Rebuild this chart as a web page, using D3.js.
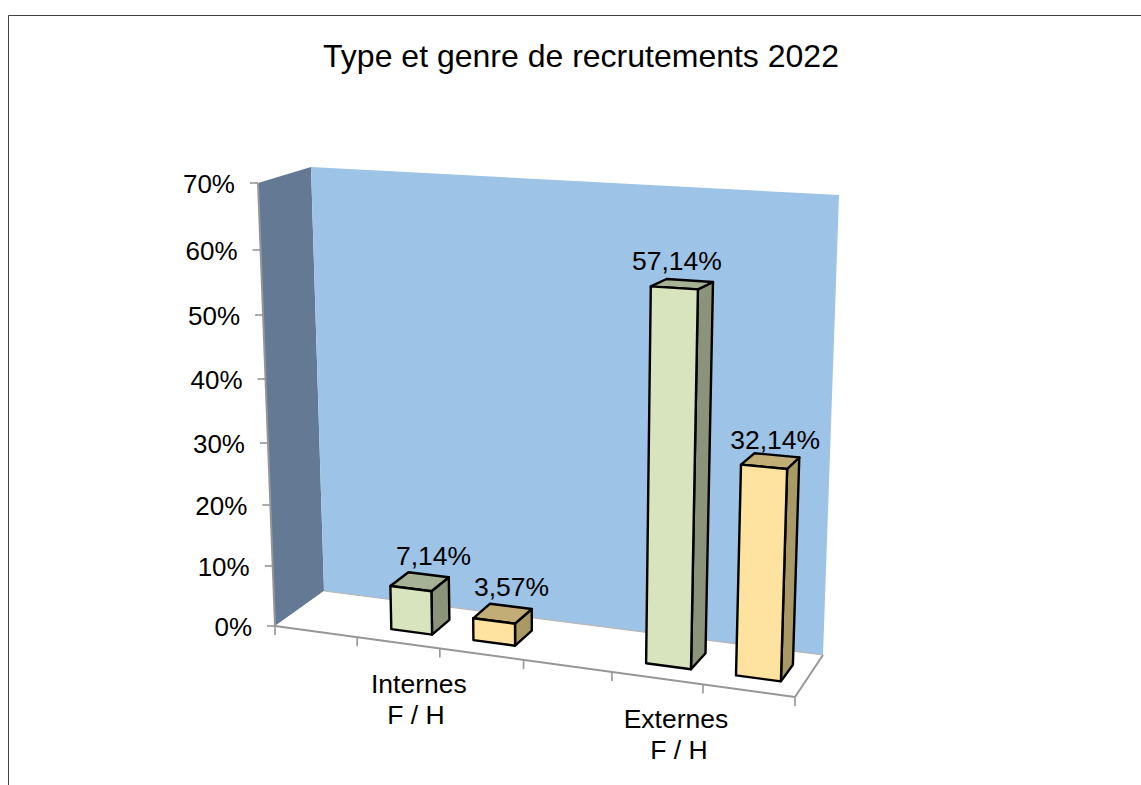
<!DOCTYPE html>
<html><head><meta charset="utf-8">
<script src="https://cdn.jsdelivr.net/npm/d3@7"></script>
<style>html,body{margin:0;padding:0;background:#fff;overflow:hidden}svg{display:block}text{font-family:"Liberation Sans",Arial,sans-serif;fill:#000}</style>
</head><body><svg id="c" width="1141" height="785"></svg>
<script>
const titleText = "Type et genre de recrutements 2022";
const slots = ["", "F", "H", "", "F", "H"];
const groupLabels = [["Internes", "F / H"], ["Externes", "F / H"]];
const groupTicks = [2, 5];
const barSlots = [1, 2, 4, 5];
const barValues = [7.14, 3.57, 57.14, 32.14];
const barSeries = ["F", "H", "F", "H"];
const valueTicks = [0, 10, 20, 30, 40, 50, 60, 70];

// layout of the projected box
const tickYs = [626, 566, 505, 443, 379, 315, 250, 183];
const frontFractions = [0, 0.158, 0.317, 0.478, 0.648, 0.823, 1];
const backFractions = [0, 0.158, 0.317, 0.483, 0.655, 0.83, 1];
const corner = {
  floorFL: [275, 626], floorFR: [795, 697], floorBL: [324, 591], floorBR: [823, 655],
  topFL: [258, 183], topFR: [810, 208], topBL: [311, 167], topBR: [839, 195]
};
const palette = {
  F: {front: "#D7E4BD", top: "#A6B295", side: "#8B937A"},
  H: {front: "#FEE29F", top: "#C2AD76", side: "#A99965"}
};
const labelNudges = [[14, -17], [9, -18], [-5, -14], [5, -12]];

const svg = d3.select("#c");
const lerp = (a, b, t) => [a[0] + (b[0] - a[0]) * t, a[1] + (b[1] - a[1]) * t];
const yScale = d3.scaleLinear().domain(valueTicks).range(tickYs);
const heightFraction = d3.scaleLinear().domain([tickYs[0], tickYs[7]]).range([0, 1]);
const slotDomain = d3.range(slots.length + 1);
const frontScale = d3.scaleLinear().domain(slotDomain).range(frontFractions);
const backScale = d3.scaleLinear().domain(slotDomain).range(backFractions);
const project = (u, v, z) => {
  const f = frontScale(u), b = backScale(u), t = heightFraction(yScale(v));
  const floor = lerp(lerp(corner.floorFL, corner.floorFR, f), lerp(corner.floorBL, corner.floorBR, b), z);
  const top = lerp(lerp(corner.topFL, corner.topFR, f), lerp(corner.topBL, corner.topBR, b), z);
  return lerp(floor, top, t);
};
const poly = pts => "M" + pts.map(p => p[0].toFixed(1) + "," + p[1].toFixed(1)).join("L") + "Z";
const line = (a, b) => "M" + a[0] + "," + a[1] + "L" + b[0] + "," + b[1];

// outer frame
svg.append("path").attr("d", "M8.5,785V15.5H1141").attr("fill", "none").attr("stroke", "#404040").attr("stroke-width", 1);

svg.append("text").attr("x", 581).attr("y", 67).attr("text-anchor", "middle").attr("font-size", 32).text(titleText);

// walls and floor
svg.append("path").attr("d", poly([corner.floorFL, corner.topFL, corner.topBL, corner.floorBL])).attr("fill", "#647A94");
svg.append("path").attr("d", poly([corner.floorBL, corner.topBL, corner.topBR, corner.floorBR])).attr("fill", "#9DC3E6");
svg.append("path").attr("d", poly([corner.floorFL, corner.floorBL, corner.floorBR, corner.floorFR])).attr("fill", "#fff");
svg.append("path").attr("d", line(corner.floorBL, corner.floorBR)).attr("stroke", "#b5b5b5").attr("stroke-width", 1.2);
const axisColor = "#969696";
svg.append("path").attr("d", line(corner.floorFR, corner.floorBR) + line(corner.floorFL, corner.floorFR) + line(corner.floorFL, corner.topFL))
  .attr("fill", "none").attr("stroke", axisColor).attr("stroke-width", 2);

// value axis
const axisAt = v => project(0, v, 0);
valueTicks.forEach(v => {
  const p = axisAt(v);
  svg.append("path").attr("d", line([p[0] - 8, p[1]], p)).attr("stroke", axisColor).attr("stroke-width", 1.6);
  svg.append("text").attr("x", p[0] - 23).attr("y", p[1] + 9.5).attr("text-anchor", "end").attr("font-size", 26).text(v + "%");
});

// slot axis
slotDomain.forEach(u => {
  const p = project(u, 0, 0);
  svg.append("path").attr("d", line(p, [p[0], p[1] + 9])).attr("stroke", axisColor).attr("stroke-width", 1.6);
});
groupLabels.forEach((lines, i) => {
  const p = project(groupTicks[i], 0, 0);
  const cx = p[0] + (i === 0 ? -21 : -27);
  svg.append("text").attr("x", cx).attr("y", p[1] + 44).attr("text-anchor", "middle").attr("font-size", 26.5).text(lines[0]);
  svg.append("text").attr("x", cx + (i === 0 ? -3 : 3)).attr("y", p[1] + 75).attr("text-anchor", "middle").attr("font-size", 26.5).text(lines[1]);
});

// bars
const zFront = 0.3, zBack = 0.7, inset = 0.25;
const fmt = v => d3.format(".2f")(v).replace(".", ",") + "%";
barValues.forEach((v, i) => {
  const u0 = barSlots[i] + inset, u1 = barSlots[i] + 1 - inset;
  const c = palette[barSeries[i]];
  const style = (d, fill) => svg.append("path").attr("d", d).attr("fill", fill).attr("stroke", "#000").attr("stroke-width", 2.4).attr("stroke-linejoin", "round");
  style(poly([project(u1, 0, zFront), project(u1, 0, zBack), project(u1, v, zBack), project(u1, v, zFront)]), c.side);
  style(poly([project(u0, v, zFront), project(u1, v, zFront), project(u1, v, zBack), project(u0, v, zBack)]), c.top);
  style(poly([project(u0, 0, zFront), project(u1, 0, zFront), project(u1, v, zFront), project(u0, v, zFront)]), c.front);
  const a = project(u0, v, zFront), b = project(u1, v, zBack);
  svg.append("text")
    .attr("x", (a[0] + b[0]) / 2 + labelNudges[i][0])
    .attr("y", (a[1] + b[1]) / 2 + labelNudges[i][1])
    .attr("text-anchor", "middle").attr("font-size", 26.5).text(fmt(v));
});
</script></body></html>
